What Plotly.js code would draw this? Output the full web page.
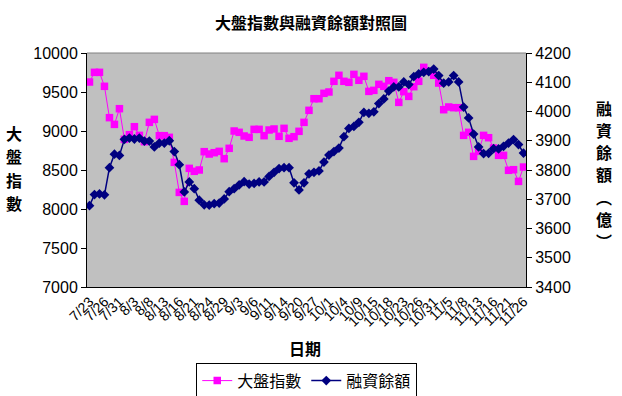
<!DOCTYPE html>
<html>
<head>
<meta charset="utf-8">
<script src="https://cdn.plot.ly/plotly-3.0.1.min.js"></script>
<style>html,body{margin:0;padding:0;background:#fff;}#chart{width:622px;height:396px;}</style>
</head>
<body>
<div id="chart"></div>
<script>
const dates = ["7/23","7/24","7/25","7/26","7/27","7/30","7/31","8/1","8/2","8/3",
"8/6","8/7","8/8","8/9","8/10","8/13","8/14","8/15","8/16","8/17",
"8/20","8/21","8/22","8/23","8/24","8/27","8/28","8/29","8/30","8/31",
"9/3","9/4","9/5","9/6","9/7","9/10","9/11","9/12","9/13","9/14",
"9/17","9/19","9/20","9/21","9/26","9/27","9/28","9/29","10/1","10/2",
"10/3","10/4","10/5","10/8","10/9","10/11","10/12","10/15","10/16","10/17",
"10/18","10/19","10/22","10/23","10/24","10/25","10/26","10/29","10/30","10/31",
"11/1","11/2","11/5","11/6","11/7","11/8","11/9","11/12","11/13","11/14",
"11/15","11/16","11/19","11/20","11/21","11/22","11/23","11/26"];

const tickLabels = ["7/23","7/26","7/31","8/3","8/8","8/13","8/16","8/21","8/24","8/29",
"9/3","9/6","9/11","9/14","9/20","9/27","10/1","10/4","10/9","10/15",
"10/18","10/23","10/26","10/31","11/5","11/8","11/13","11/16","11/21","11/26"];

const taiex = [9628,9752,9752,9573,9171,9085,9286,8893,8953,9055,
8944,8863,9111,9149,8940,8940,8919,8598,8213,8098,
8521,8483,8500,8735,8705,8722,8739,8645,8778,9000,
8983,8936,8919,9021,9021,8940,9013,9026,8932,9034,
8906,8927,8996,9111,9265,9414,9414,9483,9500,9637,
9714,9637,9624,9726,9650,9701,9508,9521,9598,9573,
9645,9624,9367,9504,9444,9568,9637,9816,9769,9714,
9615,9273,9308,9299,9299,8944,8983,8675,8739,8944,
8914,8782,8688,8688,8496,8504,8354,8538];

const margin = [3678,3716,3718,3715,3808,3854,3850,3905,3909,3906,
3909,3899,3899,3879,3892,3892,3900,3863,3818,3725,
3759,3736,3697,3681,3680,3685,3687,3701,3726,3736,
3749,3760,3752,3754,3759,3759,3778,3792,3805,3808,
3808,3756,3732,3756,3787,3792,3797,3827,3851,3863,
3875,3914,3942,3949,3963,3997,3994,3999,4027,4043,
4070,4084,4084,4101,4092,4119,4129,4134,4136,4145,
4123,4097,4101,4123,4101,4015,3978,3923,3879,3856,
3857,3873,3872,3881,3892,3904,3887,3858];

const leftTicks = [7000,7500,8000,8500,9000,9500,10000];
const rightTicks = [3400,3500,3600,3700,3800,3900,4000,4100,4200];

const leftTitle = ["大","盤","指","數"];
const rightTitle = ["融","資","餘","額","︵","億","︶"];

const NUM = "Liberation Sans, Arial, Noto Sans CJK TC, sans-serif";
const CJK = "Noto Sans CJK TC, Liberation Sans, sans-serif";

const W = 622, H = 396;
const ML = 87, MR = 95.5, MT = 53.3, MB = 108.7;
const plotH = H - MT - MB;
const plotW = W - ML - MR;
const pyToPaper = py => (H - MB - py) / plotH;
const pxToPaper = px => (px - ML) / plotW;

const traces = [
  {x: dates, y: taiex, name: "大盤指數", type: "scatter", mode: "lines+markers",
   line: {color: "#FF00FF", width: 1},
   marker: {symbol: "square", size: 7.5, color: "#FF00FF"}, xaxis: "x", yaxis: "y"},
  {x: dates, y: margin, name: "融資餘額", type: "scatter", mode: "lines+markers",
   line: {color: "#000080", width: 1.5},
   marker: {symbol: "diamond", size: 7.5, color: "#000080"}, xaxis: "x", yaxis: "y2"}
];

const annotations = [];
leftTitle.forEach((ch, i) => {
  annotations.push({text: "<b>" + ch + "</b>", xref: "paper", yref: "paper",
    x: pxToPaper(14), y: pyToPaper(133 + i * 23.5), xanchor: "center", yanchor: "middle",
    showarrow: false, font: {family: CJK, size: 16, color: "#000"}});
});
rightTitle.forEach((ch, i) => {
  annotations.push({text: "<b>" + ch + "</b>", xref: "paper", yref: "paper",
    x: pxToPaper(605), y: pyToPaper(108 + i * 22.2), xanchor: "center", yanchor: "middle",
    showarrow: false, font: {family: CJK, size: 16, color: "#000"}});
});
annotations.push({text: "<b>日期</b>", xref: "paper", yref: "paper",
  x: pxToPaper(305), y: pyToPaper(348), xanchor: "center", yanchor: "middle",
  showarrow: false, font: {family: CJK, size: 16, color: "#000"}});

const layout = {
  width: W, height: H,
  margin: {l: ML, r: MR, t: MT, b: MB, pad: 0, autoexpand: false},
  paper_bgcolor: "#FFFFFF",
  plot_bgcolor: "#C0C0C0",
  font: {family: NUM, color: "#000"},
  showlegend: true,
  title: {text: "<b>大盤指數與融資餘額對照圖</b>", font: {family: CJK, size: 16, color: "#000"},
          x: 0.5, xanchor: "center", y: 1 - 23 / H, yanchor: "middle"},
  xaxis: {
    type: "category", range: [-0.5, dates.length - 0.5], automargin: false,
    tickvals: tickLabels, ticktext: tickLabels, tickangle: -45,
    tickfont: {family: NUM, size: 14, color: "#000"},
    ticks: "", showgrid: false, zeroline: false,
    showline: true, linecolor: "#000", linewidth: 1
  },
  xaxis2: {
    overlaying: "x", anchor: "y", side: "bottom", automargin: false,
    range: [-0.5, dates.length - 0.5], tick0: -0.5, dtick: 1,
    ticks: "outside", ticklen: 4, tickcolor: "#000", tickwidth: 1,
    showticklabels: false, showgrid: false, zeroline: false, showline: false
  },
  yaxis: {
    range: [7000, 10000], tickvals: leftTicks, ticktext: leftTicks.map(String), automargin: false,
    ticks: "outside", ticklen: 5, tickcolor: "#000",
    tickfont: {family: NUM, size: 16, color: "#000"},
    showgrid: false, zeroline: false, showline: true, linecolor: "#000", linewidth: 1
  },
  yaxis2: {
    overlaying: "y", side: "right", anchor: "x", automargin: false,
    range: [3400, 4200], tickvals: rightTicks, ticktext: rightTicks.map(String),
    ticks: "outside", ticklen: 5, tickcolor: "#000",
    tickfont: {family: NUM, size: 16, color: "#000"},
    showgrid: false, zeroline: false, showline: true, linecolor: "#000", linewidth: 1
  },
  legend: {
    orientation: "h", xref: "paper", x: pxToPaper(307), xanchor: "center",
    yref: "paper", y: pyToPaper(363), yanchor: "top",
    bordercolor: "#000", borderwidth: 1, bgcolor: "#FFFFFF",
    font: {family: CJK, size: 16, color: "#000"},
    itemwidth: 30, tracegroupgap: 0
  },
  shapes: [
    {type: "line", xref: "paper", yref: "paper", x0: 0, x1: 1, y0: 1, y1: 1,
     line: {color: "#808080", width: 1}}
  ],
  annotations: annotations
};

Plotly.newPlot("chart", traces, layout, {displayModeBar: false, staticPlot: true});
</script>
</body>
</html>
